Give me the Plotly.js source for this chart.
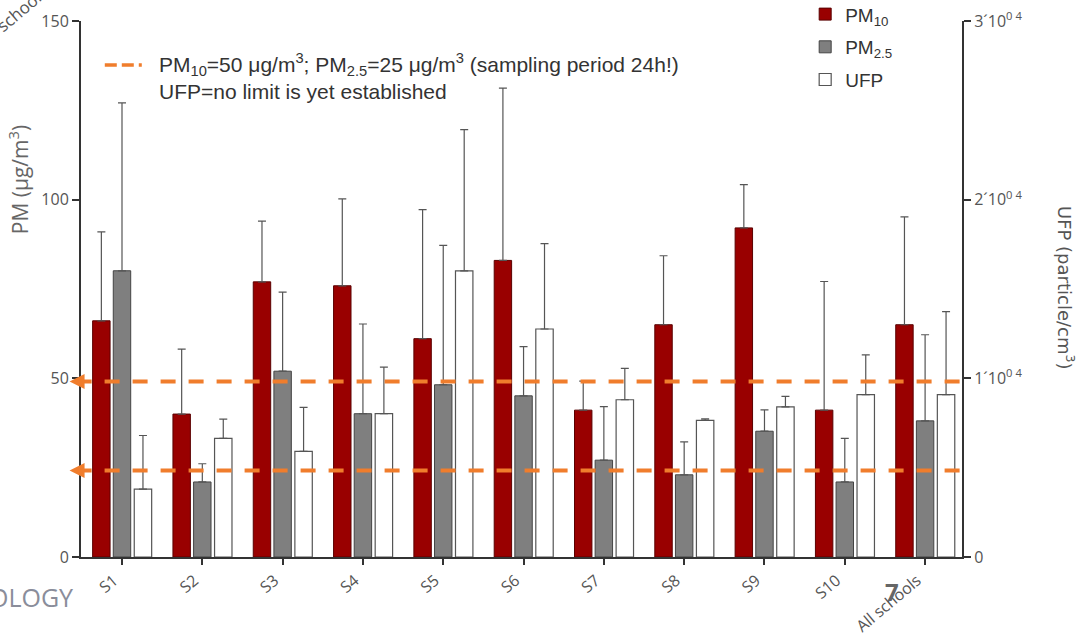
<!DOCTYPE html>
<html>
<head>
<meta charset="utf-8">
<script src="https://cdn.plot.ly/plotly-3.0.1.min.js"></script>
<style>html,body{margin:0;padding:0;background:#fff;}#chart{width:1082px;height:641px;}</style>
</head>
<body>
<div id="chart"></div>
<script>
// ---- data ----
var schools = ["S1","S2","S3","S4","S5","S6","S7","S8","S9","S10","All schools"];
var pm10    = [66.1, 40.0, 77.0, 75.9, 61.1, 83.0, 41.1, 65.0, 92.1, 41.1, 65.0];
var pm10Sd  = [24.9, 18.2, 17.0, 24.3, 36.1, 48.2,  8.1, 19.3, 12.1, 36.0, 30.2];
var pm25    = [80.1, 21.0, 52.0, 40.1, 48.2, 45.1, 27.1, 23.0, 35.2, 21.0, 38.1];
var pm25Sd  = [47.0,  5.1, 22.1, 25.1, 39.0, 13.8, 15.0,  9.2,  6.0, 12.2, 24.1];
var ufp     = [3800, 6640, 5910, 8020, 16020, 12760, 8800, 7650, 8400, 9090, 9090];
var ufpSd   = [3000, 1080, 2460, 2610, 7900, 4780, 1760, 80, 590, 2220, 4640];
var limitPm10 = 49.1;   // dashed line positions
var limitPm25 = 24.2;
var ufpTickVals = [0, 10000, 20000, 30000];
var ufpTickText = ["0", "1\u00b410<sup>0 4</sup>", "2\u00b410<sup>0 4</sup>", "3\u00b410<sup>0 4</sup>"];

function zeros(n){ var a=[]; for(var i=0;i<n;i++) a.push(0); return a; }
var errStyle = {color:'#555', thickness:1.2, width:4};

var traces = [
  {type:'bar', name:'PM<sub>10</sub>', x:schools, y:pm10, yaxis:'y', legendgroup:'a',
   width:0.217, offset:-0.365,
   marker:{color:'#990000', line:{color:'#5a0000', width:1}},
   error_y:Object.assign({type:'data', symmetric:false, array:pm10Sd, arrayminus:zeros(pm10.length)}, errStyle)},
  {type:'bar', name:'PM<sub>2.5</sub>', x:schools, y:pm25, yaxis:'y', legendgroup:'b',
   width:0.217, offset:-0.108,
   marker:{color:'#7f7f7f', line:{color:'#444', width:1}},
   error_y:Object.assign({type:'data', symmetric:false, array:pm25Sd, arrayminus:zeros(pm25.length)}, errStyle)},
  {type:'bar', name:'UFP', x:schools, y:ufp, yaxis:'y2', legendgroup:'c',
   width:0.217, offset:0.153,
   marker:{color:'#ffffff', line:{color:'#555', width:1.2}},
   error_y:Object.assign({type:'data', symmetric:false, array:ufpSd, arrayminus:zeros(ufp.length)}, errStyle)}
];

var orange = '#f07d2c';
var axFont = {family:'Open Sans, DejaVu Sans, sans-serif', size:16, color:'#555'};

var layout = {
  width:1082, height:641,
  margin:{l:81, r:120, t:21, b:84, autoexpand:false},
  paper_bgcolor:'#fff', plot_bgcolor:'#fff',
  barmode:'overlay',
  showlegend:true,
  legend:{x:0.822, y:1.048, xanchor:'left', yanchor:'top', traceorder:'grouped', tracegroupgap:5,
          font:{family:'Liberation Sans, Arial, sans-serif', size:19, color:'#333'}, bgcolor:'rgba(0,0,0,0)'},
  xaxis:{range:[-0.51, 10.46], showline:true, linecolor:'#333', linewidth:2, ticks:'outside', ticklen:6,
         tickwidth:2, tickcolor:'#333', tickangle:-40, ticklabelshift:-8,
         tickfont:{family:'Open Sans, sans-serif', size:16, color:'#555'},
         showgrid:false, zeroline:false},
  yaxis:{range:[0,150], dtick:50, showline:true, linecolor:'#333', linewidth:2, ticks:'outside', ticklen:7,
         tickwidth:2, tickcolor:'#333', tickfont:axFont, showgrid:false, zeroline:false},
  yaxis2:{range:[0,30000], overlaying:'y', side:'right', tickvals:ufpTickVals, ticktext:ufpTickText,
          showline:true, linecolor:'#333', linewidth:2, ticks:'outside', ticklen:7, tickwidth:2, tickcolor:'#333',
          tickfont:axFont, showgrid:false, zeroline:false},
  shapes:[
    {type:'line', xref:'paper', yref:'y', x0:-0.005, x1:1, y0:limitPm10, y1:limitPm10,
     line:{color:orange, width:4, dash:'15px,13px'}},
    {type:'line', xref:'paper', yref:'y', x0:-0.005, x1:1, y0:limitPm25, y1:limitPm25,
     line:{color:orange, width:4, dash:'15px,13px'}},
    {type:'line', xref:'paper', yref:'paper', x0:0.027, x1:0.069, y0:0.918, y1:0.918,
     line:{color:orange, width:3.5, dash:'12px,5px'}}
  ],
  annotations:[
    {xref:'paper', yref:'y', x:-0.013, y:limitPm10, ax:16, ay:0, text:'', showarrow:true,
     arrowhead:2, arrowsize:1, arrowwidth:3, arrowcolor:orange},
    {xref:'paper', yref:'y', x:-0.013, y:limitPm25, ax:16, ay:0, text:'', showarrow:true,
     arrowhead:2, arrowsize:1, arrowwidth:3, arrowcolor:orange},
    {xref:'paper', yref:'paper', x:0.086, y:0.918, xanchor:'left', yanchor:'middle', showarrow:false,
     text:'PM<sub>10</sub>=50 \u03bcg/m<sup>3</sup>; PM<sub>2.5</sub>=25 \u03bcg/m<sup>3</sup> (sampling period 24h!)',
     font:{family:'Liberation Sans, Arial, sans-serif', size:21, color:'#333'}},
    {xref:'paper', yref:'paper', x:0.086, y:0.869, xanchor:'left', yanchor:'middle', showarrow:false,
     text:'UFP=no limit is yet established',
     font:{family:'Liberation Sans, Arial, sans-serif', size:21, color:'#333'}},
    {xref:'paper', yref:'paper', x:-0.0715, y:0.703, xanchor:'center', yanchor:'middle', textangle:-90, showarrow:false,
     text:'PM (\u03bcg/m<sup>3</sup>)', font:{family:'Open Sans, sans-serif', size:21, color:'#666'}},
    {xref:'paper', yref:'paper', x:1.118, y:0.502, xanchor:'center', yanchor:'middle', textangle:90, showarrow:false,
     text:'UFP (particle/cm<sup>3</sup>)', font:{family:'DejaVu Sans, sans-serif', size:18, color:'#555'}},
    {xref:'paper', yref:'paper', x:-0.007, y:-0.075, xanchor:'right', yanchor:'middle', showarrow:false,
     text:'OLOGY', font:{family:'Open Sans, sans-serif', size:25, color:'#8a8d9a'}},
    {xref:'paper', yref:'paper', x:0.921, y:-0.064, xanchor:'center', yanchor:'middle', showarrow:false,
     text:'<b>7</b>', font:{family:'Open Sans, sans-serif', size:24, color:'#666'}},
    {xref:'paper', yref:'paper', x:-0.1045, y:1.081, textangle:-40, showarrow:false,
     text:'schools', font:{family:'Open Sans, sans-serif', size:17, color:'#555'}}
  ]
};

Plotly.newPlot('chart', traces, layout, {displayModeBar:false, staticPlot:true});
</script>
</body>
</html>
